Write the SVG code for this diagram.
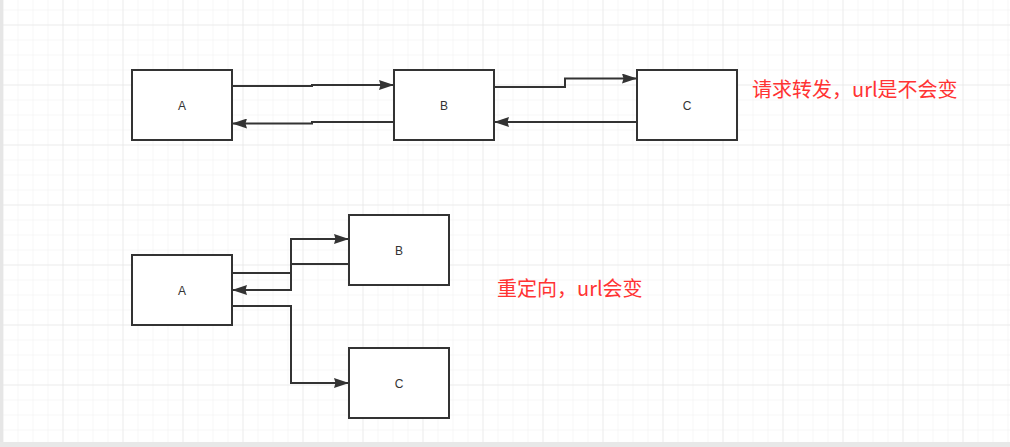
<svg xmlns="http://www.w3.org/2000/svg" width="1010" height="447" viewBox="0 0 1010 447">
<defs>
<pattern id="minor" patternUnits="userSpaceOnUse" x="2.5" y="-5.5" width="15" height="15">
<path d="M0,0 V15 M0,0 H15" fill="none" stroke="#efefef" stroke-width="1"/>
</pattern>
<pattern id="major" patternUnits="userSpaceOnUse" x="2.5" y="24.5" width="60" height="60">
<path d="M0,0 V60 M0,0 H60" fill="none" stroke="#e3e3e3" stroke-width="1"/>
</pattern>
<marker id="arr" viewBox="0 0 15 10" refX="15" refY="5" markerWidth="15" markerHeight="10" markerUnits="userSpaceOnUse" orient="auto">
<path d="M0,0 L15,5 L0,10 L1.5,5 Z" fill="#333333"/>
</marker>
<style>
.box{fill:#ffffff;stroke:#333333;stroke-width:2}
.lbl{font-family:"Liberation Sans","Noto Sans",Arial,sans-serif;font-size:12px;fill:#333333;text-anchor:middle}
.edge{fill:none;stroke:#333333;stroke-width:2;marker-end:url(#arr)}
.note{font-family:"Noto Sans CJK SC","Noto Sans",sans-serif;fill:#ff3333}
</style>
</defs>
<rect x="0" y="0" width="1010" height="447" fill="#ffffff"/>
<rect x="3" y="0" width="1007" height="442" fill="url(#minor)"/>
<rect x="3" y="0" width="1007" height="442" fill="url(#major)"/>
<rect x="0" y="0" width="3" height="447" fill="#e6e6e6"/>
<rect x="0" y="442" width="1010" height="5" fill="#e8e8e8"/>

<g id="connectors">
<path class="edge" d="M232,86 H312 V85 H394"/>
<path class="edge" d="M394,122 H312 V123.5 H232"/>
<path class="edge" d="M494,87 H565 V78.5 H637"/>
<path class="edge" d="M637,122 H494"/>
<path class="edge" d="M232,273 H291 V239 H349"/>
<path class="edge" d="M349,264 H291 V290 H232"/>
<path class="edge" d="M232,306 H291 V383 H349"/>
</g>

<g id="top-A"><rect class="box" x="132" y="70" width="100" height="70"/><text class="lbl" x="182" y="110">A</text></g>
<g id="top-B"><rect class="box" x="394" y="70" width="100" height="70"/><text class="lbl" x="444" y="110">B</text></g>
<g id="top-C"><rect class="box" x="637" y="70" width="100" height="70"/><text class="lbl" x="687" y="110">C</text></g>
<g id="bottom-A"><rect class="box" x="132" y="255" width="100" height="70"/><text class="lbl" x="182" y="295">A</text></g>
<g id="bottom-B"><rect class="box" x="349" y="215" width="100" height="70"/><text class="lbl" x="399" y="255">B</text></g>
<g id="bottom-C"><rect class="box" x="349" y="348" width="100" height="70"/><text class="lbl" x="399" y="388">C</text></g>

<g id="note-forward"><text class="note" x="752" y="97" font-size="20">请求转发，url是不会变</text></g>
<g id="note-redirect"><text class="note" x="497" y="296" font-size="20">重定向，url会变</text></g>
</svg>
